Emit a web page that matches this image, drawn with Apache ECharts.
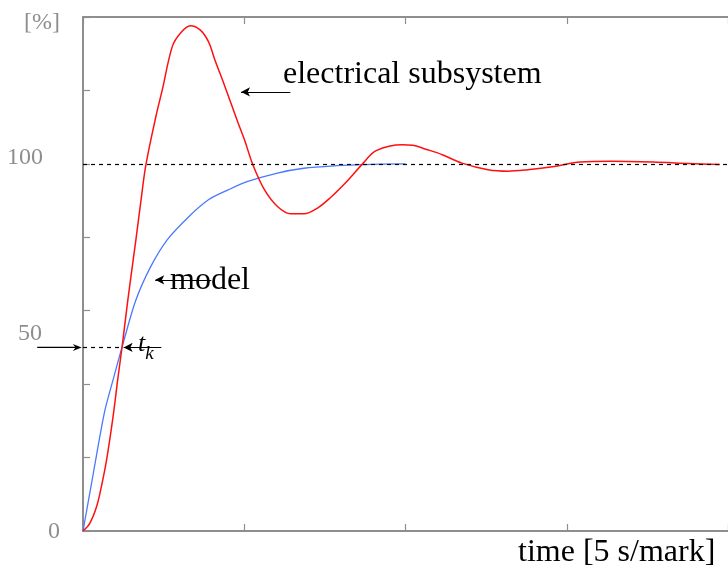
<!DOCTYPE html>
<html>
<head>
<meta charset="utf-8">
<script src="https://cdn.jsdelivr.net/npm/echarts@6/dist/echarts.min.js"></script>
<style>
  html, body { margin: 0; padding: 0; background: #fff; }
  #chart { width: 728px; height: 569px; }
</style>
</head>
<body>
<div id="chart"></div>
<script>
// time in seconds (5 s per mark), response in %
const modelTime = [0, 0.32, 0.67, 0.93, 1.23, 1.64, 2.1, 2.61, 3.28, 3.89, 4.5, 5.11, 6.03, 6.85, 7.87, 8.69, 10.0]
const modelValue = [0, 15.7, 32.5, 41.1, 50.7, 62.9, 72.0, 79.3, 85.6, 90.2, 92.9, 95.2, 97.5, 98.8, 99.5, 99.8, 100]

const elecTime = [0, 0.21, 0.42, 0.57, 0.73, 0.93, 1.08, 1.22, 1.39, 1.64, 1.8, 1.95, 2.26, 2.46, 2.77, 3.02, 3.33, 3.63, 3.89, 4.09, 4.4, 4.81, 5.01, 5.27, 5.63, 6.03, 6.44, 6.85, 7.26, 7.66, 8.18, 8.69, 9.09, 9.91, 10.22, 10.63, 11.14, 11.75, 12.56, 13.18, 13.79, 14.61, 15.42, 16.34, 17.67, 18.79, 19.75]
const elecValue = [0, 2.1, 6.6, 12.1, 19.3, 31.0, 41.5, 50.7, 62.9, 79.3, 90.2, 99.7, 112.9, 120.2, 132.0, 135.6, 137.6, 136.5, 133.3, 128.3, 121.1, 111.1, 106.5, 99.7, 92.9, 88.4, 86.4, 86.4, 87.9, 90.7, 95.2, 100.2, 103.6, 105.2, 105.1, 104.0, 102.5, 100.2, 98.4, 98.0, 98.4, 99.3, 100.5, 100.7, 100.5, 100.1, 99.8]

const yTickLabels = ['0', '50', '100']
const yTickValues = [0, 50, 100]
const finalValue = 100
const tk = 1.22 // time where both curves reach 50 %

const chart = echarts.init(document.getElementById('chart'))
const serif = "'Liberation Serif', 'Times New Roman', serif"
const gray = '#8e8e8e'

const zip = (xs, ys) => xs.map((x, i) => [x, ys[i]])

// horizontal annotation segment in data coords, optional arrow at the end
const seg = (x1, x2, y, opts = {}) => [
  {
    coord: [x1, y],
    symbol: 'none',
    lineStyle: { color: '#000', width: 1.2, type: opts.dashed ? [4, 4] : 'solid' }
  },
  { coord: [x2, y], symbol: opts.arrow ? 'arrow' : 'none', symbolSize: [7, 9] }
]

const axisCommon = {
  min: 0,
  axisLine: { show: true, lineStyle: { color: gray, width: 2 } },
  axisTick: { show: true, inside: true, length: 7, lineStyle: { color: gray, width: 1.2 } },
  axisLabel: { show: false },
  splitLine: { show: false }
}

chart.setOption({
  animation: false,
  grid: { left: 83, top: 17, right: -8, bottom: 38 },
  xAxis: [
    { ...axisCommon, type: 'value', max: 20, interval: 5, position: 'bottom' },
    { ...axisCommon, type: 'value', max: 20, interval: 5, position: 'top' }
  ],
  yAxis: { ...axisCommon, type: 'value', max: 140, interval: 20 },
  series: [
    {
      name: 'notes',
      type: 'line',
      data: [],
      z: 1,
      clip: false,
      silent: true,
      markLine: {
        silent: true,
        animation: false,
        label: { show: false },
        emphasis: { disabled: true },
        data: [
          seg(0, 20, finalValue, { dashed: true }),
          seg(0, tk, 50, { dashed: true }),
          seg(2.43, tk + 0.04, 50, { arrow: true }),
          seg(6.43, 4.9, 119.6, { arrow: true }),
          seg(3.98, 2.24, 68.4, { arrow: true })
        ]
      }
    },
    {
      name: 'model',
      type: 'line',
      data: zip(modelTime, modelValue),
      symbol: 'none',
      smooth: 0.3,
      z: 3,
      lineStyle: { color: '#4a78ff', width: 1.3 }
    },
    {
      name: 'electrical subsystem',
      type: 'line',
      data: zip(elecTime, elecValue),
      symbol: 'none',
      smooth: 0.35,
      z: 4,
      lineStyle: { color: '#ff1010', width: 1.5 }
    }
  ]
})

// y tick labels, placed next to their values
const tickLabelShift = [{ right: 60, dy: 1 }, { right: 42, dy: -14 }, { right: 43, dy: -6 }]
const tickTexts = yTickLabels.map((t, i) => {
  const y = chart.convertToPixel({ yAxisIndex: 0 }, yTickValues[i])
  return {
    type: 'text',
    x: tickLabelShift[i].right,
    y: y + tickLabelShift[i].dy,
    style: { text: t, font: '24px ' + serif, fill: gray, align: 'right', verticalAlign: 'middle' }
  }
})

// arrow from outside the plot pointing at the 50 % level on the y axis
const p1 = chart.convertToPixel({ gridIndex: 0 }, [-1.42, 50])
const p2 = chart.convertToPixel({ gridIndex: 0 }, [-0.04, 50])
const outsideArrow = [
  {
    type: 'line',
    shape: { x1: p1[0], y1: p1[1], x2: p2[0] - 4, y2: p2[1] },
    style: { stroke: '#000', lineWidth: 1.2 }
  },
  {
    type: 'polygon',
    shape: {
      points: [[p2[0], p2[1]], [p2[0] - 9, p2[1] - 3.5], [p2[0] - 6, p2[1]], [p2[0] - 9, p2[1] + 3.5]]
    },
    style: { fill: '#000' }
  }
]

const bigFont = '32px ' + serif
chart.setOption({
  graphic: [
    ...tickTexts,
    ...outsideArrow,
    {
      type: 'text', x: 60, y: 23,
      style: { text: '[%]', font: '24px ' + serif, fill: gray, align: 'right', verticalAlign: 'middle' }
    },
    {
      type: 'text', x: 283, y: 75,
      style: { text: 'electrical subsystem', font: bigFont, fill: '#000', verticalAlign: 'middle' }
    },
    {
      type: 'text', x: 170, y: 281,
      style: { text: 'model', font: bigFont, fill: '#000', verticalAlign: 'middle' }
    },
    {
      type: 'text', x: 518, y: 553,
      style: { text: 'time [5 s/mark]', font: bigFont, fill: '#000', verticalAlign: 'middle' }
    },
    {
      type: 'text', x: 138, y: 344,
      style: {
        text: '{t|t}{k|k}',
        verticalAlign: 'middle',
        rich: {
          t: { font: 'italic 26px ' + serif, fill: '#000', verticalAlign: 'bottom' },
          k: { font: 'italic 19px ' + serif, fill: '#000', verticalAlign: 'bottom', padding: [0, 0, -6, 0] }
        }
      }
    }
  ]
})
</script>
</body>
</html>
